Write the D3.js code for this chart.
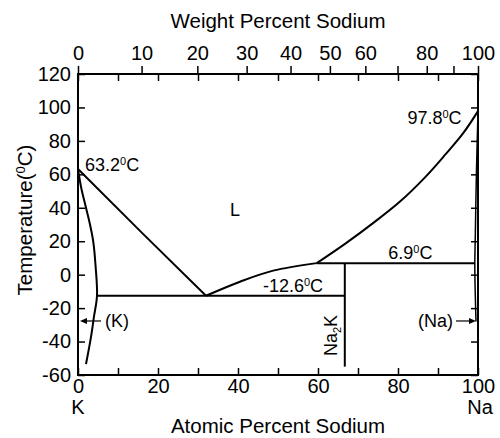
<!DOCTYPE html>
<html>
<head>
<meta charset="utf-8">
<script src="https://cdn.jsdelivr.net/npm/d3@7"></script>
<style>
  body { margin: 0; background: #fff; }
  svg { font-family: 'Liberation Sans', Arial, sans-serif; }
</style>
</head>
<body>
<svg id="chart"></svg>
<script>
let d3 = window.d3

// phase boundaries: [atomic % Na, temperature C]
let liquidusK = [[0, 63.2], [16, 25], [32, -12.6]]
let liquidusMid = [[32, -12.6], [40.5, -4.2], [48.8, 2.4], [59.7, 6.9]]
let liquidusNa = [[59.7, 6.9], [66.75, 18.4], [74.25, 31.7], [80.5, 43.7], [86.75, 58.2], [91.75, 71.6], [96.3, 84.6], [100, 97.8]]
let solvusK = [[0, 63.2], [0.8, 52], [2.0, 40], [3.0, 30], [3.8, 20], [4.4, 5], [4.75, -12.6], [4.0, -25], [3.2, -38], [2.0, -53.5]]
let solvusNa = [[100, 97.8], [99.6, 60], [99.3, 20], [99.2, 6.9], [99.3, -10], [99.5, -28]]
let eutectic = [[4.75, -12.6], [66.7, -12.6]]
let peritectic = [[59.7, 6.9], [99.2, 6.9]]
let na2k = [[66.7, 6.9], [66.7, -55]]

let atTicks = [0, 10, 20, 30, 40, 50, 60, 70, 80, 90, 100]
let atLabels = [0, 20, 40, 60, 80, 100]
let tempTicks = [-60, -40, -20, 0, 20, 40, 60, 80, 100, 120]
let wtTicks = [0, 10, 20, 30, 40, 50, 60, 70, 80, 90, 100]
let wtLabels = [0, 10, 20, 30, 40, 50, 60, 80, 100]

// label: [text, atomic %, temperature, anchor]
let labels = [
  ['63.2', 1.75, 62.0, 'start'],
  ['97.8', 95.9, 90.2, 'end'],
  ['6.9', 83.1, 9.4, 'middle'],
  ['-12.6', 53.75, -10.3, 'middle']
]

let margin = { top: 74, right: 22, bottom: 63, left: 78 }
let width = 500 - margin.left - margin.right
let height = 438 - margin.top - margin.bottom

let x = d3.scaleLinear().domain([0, 100]).range([0, width])
let y = d3.scaleLinear().domain([-60, 120]).range([height, 0])

// weight % Na -> atomic % Na
function wtToAt (w) {
  if (w >= 100) return 100
  let na = w / 22.99
  let k = (100 - w) / 39.098
  return 100 * na / (na + k)
}

let root = d3.select('#chart')
  .attr('width', 500)
  .attr('height', 438)

let svg = root.append('g')
  .attr('transform', 'translate(' + margin.left + ',' + margin.top + ')')

function styleAxis (g) {
  g.select('.domain').remove()
  g.selectAll('line').attr('stroke', '#000').attr('stroke-width', 1.5)
  g.selectAll('text').attr('fill', '#000').style('font-size', '20px')
}

svg.append('g')
  .attr('transform', 'translate(0,' + height + ')')
  .call(d3.axisBottom(x).tickValues(atTicks).tickSize(-7).tickPadding(4)
    .tickFormat(d => atLabels.includes(d) ? String(d) : ''))
  .call(styleAxis)

svg.append('g')
  .call(d3.axisTop(x).tickValues(atTicks).tickSize(-7).tickFormat(''))
  .call(styleAxis)

svg.append('g')
  .call(d3.axisLeft(y).tickValues(tempTicks).tickSize(-7).tickPadding(7)
    .tickFormat(d => String(d)))
  .call(styleAxis)

svg.append('g')
  .attr('transform', 'translate(' + width + ',0)')
  .call(d3.axisRight(y).tickValues(tempTicks).tickSize(-7).tickFormat(''))
  .call(styleAxis)

let xWt = d3.scaleLinear().domain([0, 100]).range([0, width])
let wtScale = function (w) { return xWt(wtToAt(w)) }
wtScale.copy = () => wtScale
wtScale.domain = () => [0, 100]
wtScale.range = () => [0, width]

svg.append('g')
  .call(d3.axisTop(wtScale).tickValues(wtTicks).tickSize(8).tickPadding(6)
    .tickFormat(d => wtLabels.includes(d) ? String(d) : ''))
  .call(styleAxis)

svg.append('rect')
  .attr('width', width)
  .attr('height', height)
  .attr('fill', 'none')
  .attr('stroke', '#000')
  .attr('stroke-width', 2)

let curve = d3.line()
  .x(d => x(d[0]))
  .y(d => y(d[1]))
  .curve(d3.curveCatmullRom.alpha(0.5))
let straight = d3.line()
  .x(d => x(d[0]))
  .y(d => y(d[1]))

let lines = svg.append('g')
  .attr('fill', 'none')
  .attr('stroke', '#000')
  .attr('stroke-width', 2)

lines.append('path').attr('d', straight(liquidusK))
lines.append('path').attr('d', curve(liquidusMid))
lines.append('path').attr('d', curve(liquidusNa))
lines.append('path').attr('d', curve(solvusK))
lines.append('path').attr('d', curve(solvusNa)).attr('stroke-width', 1.5)
lines.append('path').attr('d', straight(eutectic))
lines.append('path').attr('d', straight(peritectic))
lines.append('path').attr('d', straight(na2k))

// temperature labels with superscript 0
labels.forEach(function (l) {
  let t = svg.append('text')
    .attr('x', x(l[1]))
    .attr('y', y(l[2]))
    .attr('text-anchor', l[3])
    .style('font-size', '18px')
  t.append('tspan').text(l[0])
  t.append('tspan').attr('dy', -6).style('font-size', '11px').text('0')
  t.append('tspan').attr('dy', 6).text('C')
})

svg.append('text')
  .attr('x', x(39.25))
  .attr('y', y(35.1))
  .attr('text-anchor', 'middle')
  .style('font-size', '18px')
  .text('L')

let nk = svg.append('text')
  .attr('transform', 'translate(' + x(64.75) + ',' + y(-36.4) + ') rotate(-90)')
  .attr('text-anchor', 'middle')
  .style('font-size', '18px')
nk.append('tspan').text('Na')
nk.append('tspan').attr('dy', 4).style('font-size', '11px').text('2')
nk.append('tspan').attr('dy', -4).text('K')

// phase arrows
function arrow (x0, x1, t) {
  let yy = y(t)
  let dir = x1 > x0 ? 1 : -1
  svg.append('line')
    .attr('x1', x(x0)).attr('x2', x(x1) - dir * 4)
    .attr('y1', yy).attr('y2', yy)
    .attr('stroke', '#000').attr('stroke-width', 1.2)
  svg.append('path')
    .attr('d', 'M' + x(x1) + ',' + yy + 'l' + (-dir * 7) + ',-3l0,6z')
    .attr('fill', '#000')
}
arrow(5.75, 0.5, -27.7)
arrow(94.5, 99.5, -27.7)

svg.append('text')
  .attr('x', x(6.75))
  .attr('y', y(-27.7) + 6)
  .style('font-size', '18px')
  .text('(K)')
svg.append('text')
  .attr('x', x(93.75))
  .attr('y', y(-27.7) + 6)
  .attr('text-anchor', 'end')
  .style('font-size', '18px')
  .text('(Na)')

// axis titles
svg.append('text')
  .attr('x', width / 2)
  .attr('y', 27.5 - margin.top)
  .attr('text-anchor', 'middle')
  .style('font-size', '20.5px')
  .text('Weight Percent Sodium')

svg.append('text')
  .attr('x', width / 2)
  .attr('y', 433 - margin.top)
  .attr('text-anchor', 'middle')
  .style('font-size', '20.5px')
  .text('Atomic Percent Sodium')

svg.append('text')
  .attr('x', x(0))
  .attr('y', 414 - margin.top)
  .attr('text-anchor', 'middle')
  .style('font-size', '20px')
  .text('K')
svg.append('text')
  .attr('x', x(100) + 2)
  .attr('y', 414 - margin.top)
  .attr('text-anchor', 'middle')
  .style('font-size', '20px')
  .text('Na')

let yl = svg.append('text')
  .attr('transform', 'translate(' + (32 - margin.left) + ',' + (220 - margin.top) + ') rotate(-90)')
  .attr('text-anchor', 'middle')
  .style('font-size', '20.5px')
yl.append('tspan').text('Temperature(')
yl.append('tspan').attr('dy', -7).style('font-size', '13px').text('0')
yl.append('tspan').attr('dy', 7).text('C)')
</script>
</body>
</html>
